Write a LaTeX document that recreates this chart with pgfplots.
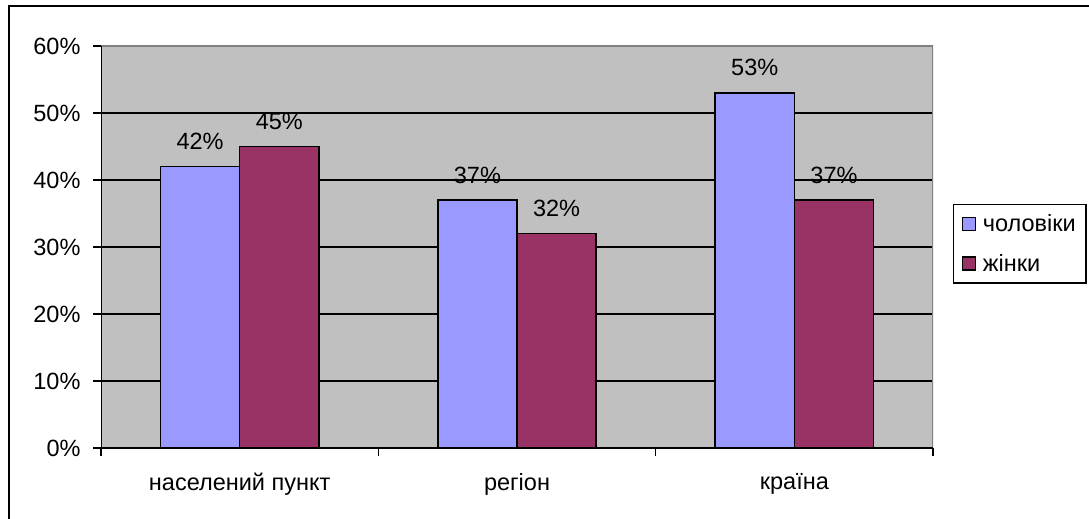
\documentclass[border=0pt]{standalone}
\usepackage{fontspec}
\setmainfont{Liberation Sans}
\usepackage{pgfplots}
\pgfplotsset{compat=1.18}

\definecolor{menbar}{HTML}{9999FF}
\definecolor{womenbar}{HTML}{993366}
\definecolor{plotbg}{HTML}{C0C0C0}
\definecolor{framegray}{HTML}{808080}
\newcommand{\cf}{\fontsize{23.5}{28}\selectfont}

\begin{document}
\begin{tikzpicture}[x=1pt,y=1pt]
\useasboundingbox (0,0) rectangle (1089,519);
% chart area border (only the top and left edges fall inside the page)
\draw[line width=2pt] (9.3,-10) -- (9.3,513) -- (1100,513);
\begin{axis}[
  at={(101pt,71pt)}, anchor=south west,
  scale only axis, width=832pt, height=402pt,
  xmin=-0.5, xmax=2.5, ymin=0, ymax=60,
  axis background/.style={fill=plotbg},
  axis line style={draw=none},
  tick pos=left, tick align=outside,
  major tick length=8pt,
  every tick/.style={black, line width=1.5pt},
  xtick={-0.5,0.5,1.5,2.5},
  x tick label as interval,
  xticklabels={населений пункт, регіон, країна},
  x tick label style={yshift=-14pt},
  ytick={0,10,20,30,40,50,60},
  yticklabel={\pgfmathprintnumber{\tick}\%},
  y tick label style={xshift=-9pt},
  /pgf/number format/assume math mode=true,
  ticklabel style={font=\cf},
  ymajorgrids,
  major grid style={black, line width=1.5pt},
  ybar, bar width=0.2857,
  nodes near coords={\pgfmathprintnumber{\pgfplotspointmeta}\%},
  every node near coord/.append style={font=\cf, anchor=south, yshift=16pt, inner sep=0pt},
  legend style={at={(1.024,0.607)}, anchor=north west, draw=black, line width=1.5pt,
    fill=white, font=\cf, cells={anchor=west}, row sep=17pt, column sep=5pt,
    inner xsep=8pt, inner ysep=8pt},
  legend image code/.code={%
    \draw[#1,draw=black,line width=1.2pt] (0pt,-6.5pt) rectangle (13pt,6.5pt);},
]
\addplot[fill=menbar, draw=black, line width=1.5pt, bar shift=-0.142857]
  coordinates {(0,42) (1,37) (2,53)};
\addplot[fill=womenbar, draw=black, line width=1.5pt, bar shift=0.142857]
  coordinates {(0,45) (1,32) (2,37)};
\legend{чоловіки, жінки}
% plot area frame: value and category axes in black, the other two sides in gray
\draw[framegray, line width=1.5pt] (rel axis cs:0,1) -- (rel axis cs:1,1) -- (rel axis cs:1,0);
\draw[black, line width=2pt] (rel axis cs:0,1) -- (rel axis cs:0,0) -- (rel axis cs:1,0);
\end{axis}
\end{tikzpicture}
\end{document}
